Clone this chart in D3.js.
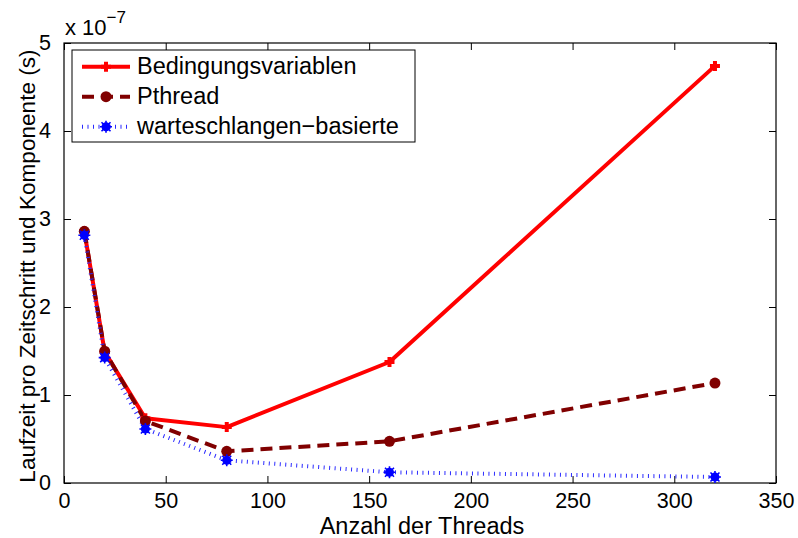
<!DOCTYPE html>
<html>
<head>
<meta charset="utf-8">
<script src="https://cdn.jsdelivr.net/npm/d3@7"></script>
<style>
  html, body { margin: 0; padding: 0; background: #fff; }
  svg { display: block; font-family: "Liberation Sans", Arial, Helvetica, sans-serif; }
</style>
</head>
<body>
<svg id="chart" width="798" height="538"></svg>
<script>
// Thread counts on the x axis
const threads = [10, 20, 40, 80, 160, 320];

// Runtime per time step and component, in units of 1e-7 s
const bedingungsvariablen = [2.86, 1.49, 0.735, 0.635, 1.375, 4.74];
const pthread             = [2.86, 1.497, 0.705, 0.36, 0.474, 1.136];
const warteschlangen      = [2.815, 1.425, 0.614, 0.258, 0.122, 0.068];

const seriesNames = ["Bedingungsvariablen", "Pthread", "warteschlangen\u2212basierte"];

const xTicks = [0, 50, 100, 150, 200, 250, 300, 350];
const yTicks = [0, 1, 2, 3, 4, 5];

const svg = d3.select("#chart");
const mLeft = 64, mRight = 776, mTop = 43, mBottom = 483;

const x = d3.scaleLinear().domain([0, 350]).range([mLeft, mRight]);
const y = d3.scaleLinear().domain([0, 5]).range([mBottom, mTop]);

const series = [
  { name: seriesNames[0], values: bedingungsvariablen, color: "#ff0000", width: 4, dash: null, marker: "plus" },
  { name: seriesNames[1], values: pthread, color: "#800000", width: 4, dash: "12,7", marker: "circle" },
  { name: seriesNames[2], values: warteschlangen, color: "#2a2aff", width: 4, dash: "1,4.5", marker: "star" }
];

// Axis box
svg.append("rect")
  .attr("x", mLeft).attr("y", mTop)
  .attr("width", mRight - mLeft).attr("height", mBottom - mTop)
  .attr("fill", "#fff").attr("stroke", "#000").attr("stroke-width", 1.2);

const tickLen = 7;
const tickFs = 21.5;
const labelFs = 23.5;

// Axes with inward ticks on all four sides
const xAxisB = d3.axisBottom(x).tickValues(xTicks).tickSize(-tickLen).tickPadding(9.5).tickFormat(d3.format("d"));
const xAxisT = d3.axisTop(x).tickValues(xTicks).tickSize(-tickLen).tickFormat("");
const yAxisL = d3.axisLeft(y).tickValues(yTicks).tickSize(-tickLen).tickPadding(13).tickFormat(d3.format("d"));
const yAxisR = d3.axisRight(y).tickValues(yTicks).tickSize(-tickLen).tickFormat("");

function styleAxis(g) {
  g.select(".domain").remove();
  g.selectAll(".tick line").attr("stroke", "#000").attr("stroke-width", 1);
  g.selectAll(".tick text").attr("fill", "#000").style("font-size", tickFs + "px")
    .style("font-family", "'Liberation Sans', Arial, sans-serif");
}

svg.append("g").attr("transform", `translate(0,${mBottom})`).call(xAxisB).call(styleAxis);
svg.append("g").attr("transform", `translate(0,${mTop})`).call(xAxisT).call(styleAxis);
svg.append("g").attr("transform", `translate(${mLeft},0)`).call(yAxisL).call(styleAxis);
svg.append("g").attr("transform", `translate(${mRight},0)`).call(yAxisR).call(styleAxis);

// Exponent label
const expo = svg.append("text").attr("x", 65).attr("y", 35)
  .style("font-size", "22px").attr("fill", "#000");
expo.append("tspan").text("x 10");
expo.append("tspan").attr("dy", -12).style("font-size", "17px").text("\u22127");

// Axis titles
svg.append("text")
  .attr("x", 422).attr("y", 534)
  .attr("text-anchor", "middle").style("font-size", labelFs + "px").attr("fill", "#000")
  .text("Anzahl der Threads");

svg.append("text")
  .attr("transform", `translate(35,266) rotate(-90)`)
  .attr("text-anchor", "middle").style("font-size", "22.6px").attr("fill", "#000")
  .text("Laufzeit pro Zeitschritt und Komponente (s)");

// Markers
function drawMarker(g, type, cx, cy, color) {
  if (type === "plus") {
    g.append("path")
      .attr("d", `M${cx - 5},${cy}H${cx + 5}M${cx},${cy - 5}V${cy + 5}`)
      .attr("stroke", color).attr("stroke-width", 4).attr("fill", "none");
  } else if (type === "circle") {
    g.append("circle").attr("cx", cx).attr("cy", cy).attr("r", 5.5).attr("fill", color);
  } else {
    g.append("circle").attr("cx", cx).attr("cy", cy).attr("r", 4.5).attr("fill", "#0000ff");
    g.append("path")
      .attr("d", `M${cx - 6},${cy}H${cx + 6}M${cx},${cy - 6}V${cy + 6}M${cx - 4.5},${cy - 4.5}L${cx + 4.5},${cy + 4.5}M${cx - 4.5},${cy + 4.5}L${cx + 4.5},${cy - 4.5}`)
      .attr("stroke", "#0000ff").attr("stroke-width", 1.6);
  }
}

const line = d3.line().x(d => x(d[0])).y(d => y(d[1]));

const plot = svg.append("g");
series.forEach(s => {
  const pts = threads.map((t, i) => [t, s.values[i]]);
  plot.append("path")
    .attr("d", line(pts))
    .attr("fill", "none")
    .attr("stroke", s.color)
    .attr("stroke-width", s.width)
    .attr("stroke-dasharray", s.dash)
    .attr("stroke-linejoin", "round");
});
series.forEach(s => {
  threads.forEach((t, i) => drawMarker(plot, s.marker, x(t), y(s.values[i]), s.color));
});

// Legend
const lg = svg.append("g");
lg.append("rect").attr("x", 72).attr("y", 50).attr("width", 343).attr("height", 92)
  .attr("fill", "#fff").attr("stroke", "#000").attr("stroke-width", 1);
series.forEach((s, i) => {
  const ly = 66.7 + i * 30;
  lg.append("line").attr("x1", 82).attr("x2", 130).attr("y1", ly).attr("y2", ly)
    .attr("stroke", s.color).attr("stroke-width", s.width)
    .attr("stroke-dasharray", s.dash);
  drawMarker(lg, s.marker, 106, ly, s.color);
  lg.append("text").attr("x", 137).attr("y", ly + 7.5)
    .style("font-size", labelFs + "px").attr("fill", "#000").text(s.name);
});
</script>
</body>
</html>
